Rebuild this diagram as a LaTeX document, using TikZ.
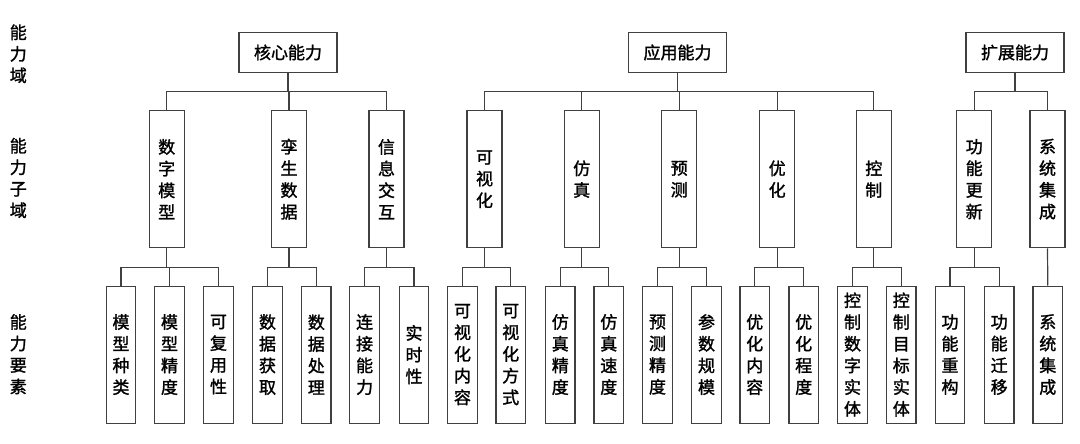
\documentclass[tikz,border=0pt]{standalone}
\usepackage{fontspec}
\newfontfamily\cjk[FakeBold=1.5]{Noto Sans CJK SC}
\begin{document}
\begin{tikzpicture}[x=1pt,y=-1pt]
  \tikzset{
    topbox/.style={draw=black!75,line width=1.2pt,minimum width=98pt,minimum height=39.6pt,inner sep=0pt,font=\cjk\fontsize{17}{21.7}\selectfont},
    subbox/.style={draw=black!75,line width=1.2pt,minimum width=35pt,minimum height=137pt,inner sep=0pt,align=center,font=\cjk\fontsize{17}{21.7}\selectfont},
    elembox/.style={subbox,minimum width=29.5pt},
    rowlabel/.style={align=center,inner sep=0pt,font=\cjk\fontsize{17}{21.5}\selectfont},
    link/.style={draw=black!75,line width=1.2pt},
  }
  \useasboundingbox (0,0) rectangle (1080,444);
  % row labels
  \node[rowlabel] (l1) at (18.3,53.8) {能\\力\\域};
  \node[rowlabel] (l2) at (18.3,178) {能\\力\\子\\域};
  \node[rowlabel] (l3) at (18.3,354.2) {能\\力\\要\\素};
  % capability domains
  \node[topbox] (core) at (288,52.5) {核心能力};
  \node[topbox] (app) at (677.5,52.5) {应用能力};
  \node[topbox] (ext) at (1015,52.5) {扩展能力};
  % sub-domains
  \node[subbox] (s1) at (166.7,179.2) {数\\字\\模\\型};
  \node[subbox] (s2) at (289,179.2) {孪\\生\\数\\据};
  \node[subbox] (s3) at (386.5,179.2) {信\\息\\交\\互};
  \node[subbox] (s4) at (484.5,179.2) {可\\视\\化};
  \node[subbox] (s5) at (581.7,179.2) {仿\\真};
  \node[subbox] (s6) at (679.2,179.2) {预\\测};
  \node[subbox] (s7) at (777.2,179.2) {优\\化};
  \node[subbox] (s8) at (873.8,179.2) {控\\制};
  \node[subbox] (s9) at (974.2,179.2) {功\\能\\更\\新};
  \node[subbox] (s10) at (1047.5,179.2) {系\\统\\集\\成};
  % elements
  \node[elembox] (e1) at (121,354.6) {模\\型\\种\\类};
  \node[elembox] (e2) at (169.5,354.6) {模\\型\\精\\度};
  \node[elembox] (e3) at (218.5,354.6) {可\\复\\用\\性};
  \node[elembox] (e4) at (267.5,354.6) {数\\据\\获\\取};
  \node[elembox] (e5) at (316.3,354.6) {数\\据\\处\\理};
  \node[elembox] (e6) at (364.6,354.6) {连\\接\\能\\力};
  \node[elembox] (e7) at (414,354.6) {实\\时\\性};
  \node[elembox] (e8) at (462.5,354.6) {可\\视\\化\\内\\容};
  \node[elembox] (e9) at (510.7,354.6) {可\\视\\化\\方\\式};
  \node[elembox] (e10) at (560.3,354.6) {仿\\真\\精\\度};
  \node[elembox] (e11) at (608.8,354.6) {仿\\真\\速\\度};
  \node[elembox] (e12) at (657.5,354.6) {预\\测\\精\\度};
  \node[elembox] (e13) at (706.5,354.6) {参\\数\\规\\模};
  \node[elembox] (e14) at (754.7,354.6) {优\\化\\内\\容};
  \node[elembox] (e15) at (803.7,354.6) {优\\化\\程\\度};
  \node[elembox] (e16) at (852.5,354.6) {控\\制\\数\\字\\实\\体};
  \node[elembox] (e17) at (901.3,354.6) {控\\制\\目\\标\\实\\体};
  \node[elembox] (e18) at (950,354.6) {功\\能\\重\\构};
  \node[elembox] (e19) at (999.2,354.6) {功\\能\\迁\\移};
  \node[elembox] (e20) at (1047.8,354.6) {系\\统\\集\\成};
  % domain to sub-domain
  \draw[link] (core.south) -- ++(0,18.7) -| (s1.north);
  \draw[link] (core.south) -- ++(0,18.7) -| (s2.north);
  \draw[link] (core.south) -- ++(0,18.7) -| (s3.north);
  \draw[link] (app.south) -- ++(0,18.7) -| (s4.north);
  \draw[link] (app.south) -- ++(0,18.7) -| (s5.north);
  \draw[link] (app.south) -- ++(0,18.7) -| (s6.north);
  \draw[link] (app.south) -- ++(0,18.7) -| (s7.north);
  \draw[link] (app.south) -- ++(0,18.7) -| (s8.north);
  \draw[link] (ext.south) -- ++(0,18.7) -| (s9.north);
  \draw[link] (ext.south) -- ++(0,18.7) -| (s10.north);
  % sub-domain to element
  \draw[link] (s1.south) -- ++(0,19) -| (e1.north);
  \draw[link] (s1.south) -- ++(0,19) -| (e2.north);
  \draw[link] (s1.south) -- ++(0,19) -| (e3.north);
  \draw[link] (s2.south) -- ++(0,19) -| (e4.north);
  \draw[link] (s2.south) -- ++(0,19) -| (e5.north);
  \draw[link] (s3.south) -- ++(0,19) -| (e6.north);
  \draw[link] (s3.south) -- ++(0,19) -| (e7.north);
  \draw[link] (s4.south) -- ++(0,19) -| (e8.north);
  \draw[link] (s4.south) -- ++(0,19) -| (e9.north);
  \draw[link] (s5.south) -- ++(0,19) -| (e10.north);
  \draw[link] (s5.south) -- ++(0,19) -| (e11.north);
  \draw[link] (s6.south) -- ++(0,19) -| (e12.north);
  \draw[link] (s6.south) -- ++(0,19) -| (e13.north);
  \draw[link] (s7.south) -- ++(0,19) -| (e14.north);
  \draw[link] (s7.south) -- ++(0,19) -| (e15.north);
  \draw[link] (s8.south) -- ++(0,19) -| (e16.north);
  \draw[link] (s8.south) -- ++(0,19) -| (e17.north);
  \draw[link] (s9.south) -- ++(0,19) -| (e18.north);
  \draw[link] (s9.south) -- ++(0,19) -| (e19.north);
  \draw[link] (s10.south) -- (e20.north);
\end{tikzpicture}
\end{document}
